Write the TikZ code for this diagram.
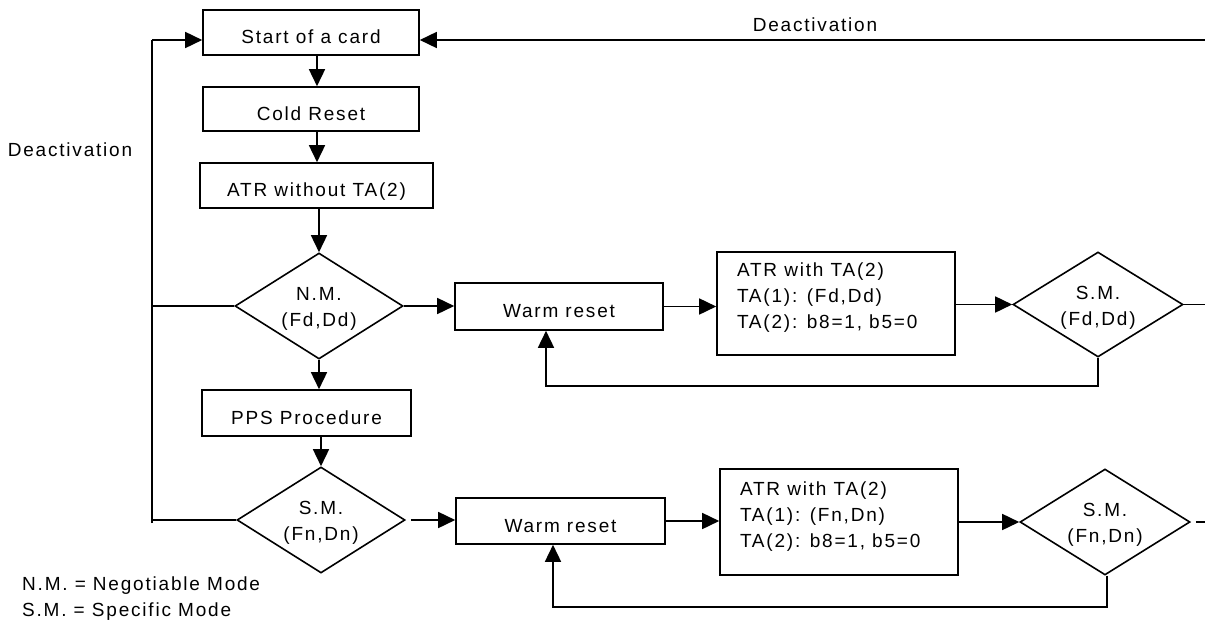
\documentclass[tikz,border=0pt]{standalone}
\usepackage{fontspec}
\setmainfont{Liberation Sans}[LetterSpace=9.5]
\usetikzlibrary{shapes.geometric,arrows.meta}
\begin{document}
\begin{tikzpicture}[x=1pt,y=-1pt,
  every node/.style={font=\fontsize{19}{26}\selectfont},
  line/.style={line width=1.6pt},
  arr/.style={line width=1.6pt,-{Triangle[length=17pt,width=16pt]}},
  box/.style={draw,line width=1.6pt,rectangle,inner sep=0pt},
  dia/.style={draw,line width=1.6pt,diamond,inner sep=0pt},
  txt/.style={inner sep=0pt}]
\useasboundingbox (0,0) rectangle (1205,621);
\newcommand{\onel}[1]{\smash{\makebox[0pt]{\raisebox{-11pt}{#1}}}}
\newcommand{\twol}[2]{\smash{\makebox[0pt]{\raisebox{-7pt}{\begin{tabular}{@{}c@{}}#1\\#2\end{tabular}}}}}
\newcommand{\atrl}[2]{\smash{\makebox[0pt][l]{\hspace*{-99pt}\raisebox{1.5pt}{\begin{tabular}{@{}l@{}}ATR with TA(2)\\TA(1): #1\\#2\end{tabular}}}}}
% boxes
\node[box,minimum width=216pt,minimum height=45pt] (start) at (311,32.5) {\onel{Start of a card}};
\node[box,minimum width=216pt,minimum height=44pt] (cold) at (311,109) {\onel{Cold Reset}};
\node[box,minimum width=233pt,minimum height=45pt] (atr0) at (316.5,185.5) {\onel{ATR without TA(2)}};
\node[dia,minimum width=168pt,minimum height=106pt] (nm) at (319,306) {\twol{N.M.}{(Fd,Dd)}};
\node[box,minimum width=209pt,minimum height=46pt] (pps) at (306.5,413) {\onel{PPS Procedure}};
\node[dia,minimum width=168pt,minimum height=106pt] (smn) at (321,520) {\twol{S.M.}{(Fn,Dn)}};
\node[box,minimum width=208pt,minimum height=47pt] (wr1) at (559,306.5) {\onel{Warm reset}};
\node[box,minimum width=209pt,minimum height=46pt] (wr2) at (560.5,521) {\onel{Warm reset}};
\node[box,minimum width=238pt,minimum height=103pt] (atr1) at (836,303.5) {\atrl{(Fd,Dd)}{TA(2): b8=1, b5=0}};
\node[box,minimum width=238pt,minimum height=106pt] (atr2) at (839,522) {\atrl{(Fn,Dn)}{TA(2): b8=1, b5=0}};
\node[dia,minimum width=170pt,minimum height=105pt] (smd1) at (1098,304.5) {\twol{S.M.}{(Fd,Dd)}};
\node[dia,minimum width=170pt,minimum height=106pt] (smd2) at (1105,522) {\twol{S.M.}{(Fn,Dn)}};
% labels
\node[txt] (deacttop) at (815,25) {Deactivation};
\node[txt] (deactleft) at (70,150) {Deactivation};
\node[txt,anchor=west] (leg1) at (22,586) {N.M. = Negotiable Mode};
\node[txt,anchor=west] (leg2) at (22,612) {S.M. = Specific Mode};
% coordinates
\coordinate (col) at (317,0);
\coordinate (topR) at (1205,40);
\coordinate (leftTop) at (152,40);
\coordinate (leftBot) at (152,523);
\coordinate (exit1) at (1205,304.5);
\coordinate (exit2) at (1205,522);
\coordinate (fb1) at (546,386);
\coordinate (fb2) at (553,607);
% connectors
\draw[arr] (start.south -| col) -- (cold.north -| col);
\draw[arr] (cold.south -| col) -- (atr0.north -| col);
\draw[arr] (nm.north |- atr0.south) -- (nm.north);
\draw[arr] (nm.south) -- (nm.south |- pps.north);
\draw[arr] (pps.south -| smn.north) -- (smn.north);
\draw[arr] (topR) -- (topR -| start.east);
\draw[line] (leftBot) -- (leftTop);
\draw[arr] (leftTop) -- (leftTop -| start.west);
\draw[line] (nm.west) -- (nm.west -| leftTop);
\draw[line] (smn.west) -- (smn.west -| leftTop);
\draw[arr] (nm.east) -- (nm.east -| wr1.west);
\draw[arr,shorten <=5pt] (smn.east) -- (smn.east -| wr2.west);
\draw[arr] (wr1.east) -- (wr1.east -| atr1.west);
\draw[arr] (wr2.east) -- (wr2.east -| atr2.west);
\draw[arr] (smd1.west -| atr1.east) -- (smd1.west);
\draw[arr] (atr2.east) -- (smd2.west);
\draw[line] (smd1.east) -- (exit1);
\draw[line,shorten <=5pt] (smd2.east) -- (exit2);
\draw[arr] (smd1.south) |- (fb1) -- (fb1 |- wr1.south);
\draw[arr] ([xshift=2pt]smd2.south) |- (fb2) -- (fb2 |- wr2.south);
\end{tikzpicture}
\end{document}
